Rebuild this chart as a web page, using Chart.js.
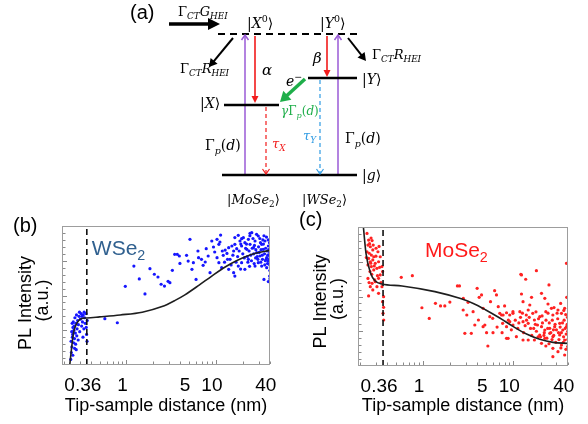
<!DOCTYPE html>
<html><head><meta charset="utf-8">
<script src="https://cdn.jsdelivr.net/npm/chart.js@4.4.0/dist/chart.umd.min.js"></script>
<style>
html,body{margin:0;padding:0;background:#fff;}
#wrap{position:relative;width:588px;height:424px;overflow:hidden;background:#fff;}
canvas{position:absolute;}
#diag{left:0px;top:0px;}
#plotB{left:0px;top:205px;}
#plotC{left:295px;top:205px;}
</style></head><body>
<div id="wrap">
<canvas id="diag" width="588" height="210"></canvas>
<canvas id="plotB" width="290" height="219"></canvas>
<canvas id="plotC" width="293" height="219"></canvas>
</div>
<script>
// ---------------- data ----------------
const xTickValues = [0.36, 1, 5, 10, 40];
const xTickLabels = ['0.36', '1', '5', '10', '40'];
const xMinorTicks = [0.2,0.3,0.4,0.5,0.6,0.7,0.8,0.9,1,2,3,4,5,6,7,8,9,10,20,30,40];
const cutoffDistance = 0.36;

// WSe2 PL intensity vs tip-sample distance (nm, a.u. 0-100)
const wsePoints = [
 [0.238,4],[0.242,9],[0.245,13],[0.240,17],[0.248,20],[0.244,24],[0.252,27],[0.247,30],[0.256,16],[0.250,22],
 [0.258,25],[0.254,31],[0.262,19],[0.260,28],[0.265,34],[0.268,23],[0.272,30],[0.270,15],[0.276,36],[0.280,26],
 [0.284,32],[0.278,21],[0.290,29],[0.295,35],[0.300,24],[0.305,33],[0.310,37],[0.315,28],[0.322,31],[0.328,36],
 [0.334,26],[0.340,34],[0.346,30],[0.352,37],[0.358,22],[0.364,32],[0.362,17],[0.355,27],[0.326,20],[0.288,18],
 [0.263,12],[0.251,7],[0.274,11],[0.318,35],[0.298,38],[0.336,38],
 [0.573,33.3],[0.79,30.4],[0.97,56.6],[1.21,71.2],[1.39,61.9],[1.61,51.1],[1.83,69.3],[2.05,65.3],[2.25,63.3],
 [2.44,58.1],[2.66,56.8],[2.92,60.2],[3.06,59.2],[3.26,68.1],[3.46,79.6],[3.9,78.4],
 [5.13,90.4],[3.7,79.6],[3.96,73.1],[4.7,78.9],[4.9,74.8],[5.6,73.6],[5.4,68.8],[6.0,61.6],[6.4,77.2],[6.3,82.0],
 [6.9,76.0],[7.2,71.7],[7.8,83.7],[8.2,78.4],[7.6,74.1],[8.6,66.4],[9.0,89.2],[9.4,84.9],[9.7,81.3],[10.3,90.4],
 [10.8,86.8],[11.1,88.5],[10.3,77.2],[10.8,73.6],[11.6,70.0],[12.1,78.9],[12.7,82.7],[13.3,80.3],[13.9,84.4],[14.4,76.0],
 [15.1,85.6],[15.8,82.0],[16.3,86.8],[17.1,83.7],[17.8,93.3],[18.6,89.2],[19.4,85.6],[20.3,91.6],[21.1,88.0],[22.2,83.2],
 [23.1,90.4],[24.1,86.8],[25.2,95.2],[26.3,84.4],[27.4,89.2],[28.6,80.8],[29.8,92.8],[31.1,78.4],[32.5,86.8],[33.9,83.2],
 [35.4,89.2],[37.0,77.2],[38.6,85.6],[40.0,80.8],
 [13.9,68.8],[15.8,66.4],[16.3,64.0],[17.8,71.2],[19.4,73.6],[21.1,68.8],[23.1,76.0],[27.4,71.2],[29.8,73.6],[32.5,71.2],
 [34.5,61.6],[37.0,70.0],[38.6,74.8],
 [20.0,80],[21.5,84],[22.5,78],[23.5,82],[24.5,79],[25.5,84],[26.5,80],[27.0,86],[28.0,83],[29.0,78],[30.0,85],[30.5,81],
 [31.5,88],[32.0,83],[33.0,79],[34.0,87],[35.0,80],[36.0,84],[36.5,76],[37.5,82],[38.0,79],[39.0,83],[39.5,76],[40.0,72],
 [39.8,88],[38.5,90],[36.8,92],[34.5,93],[33.5,90],[31.0,91],[28.5,94],[26.0,91],[24.0,93],[22.0,87],[19.0,87],[18.2,82],
 [17.5,78],[16.8,74],[15.5,79],[14.8,72],[13.5,76],[12.5,74],[11.8,82],[40.2,78],[40.1,68],[39.9,64],[37.8,73],[35.8,75],
 [25.0,75],[23.8,71],[22.8,74],[20.8,77],[18.9,69],[29.5,76],[31.8,74],[33.2,76],[35.2,72],[27.8,77],[26.8,73],
 [11.3,93.5],[16.3,91.7],[19.4,90.9],[24.1,94.7],[40.2,62],[38.6,60]
];
const wseFit = [
 [0.232,0],[0.243,12],[0.255,22.8],[0.278,30],[0.31,33.3],[0.36,33.8],[0.5,34.6],[0.85,36],[1.5,38],[2.5,42],
 [3.5,46.5],[4.5,50.5],[6.5,57.5],[9,64],[12.7,70.5],[17,75],[25,79.5],[40.3,82.5]
];

// MoSe2 PL intensity vs tip-sample distance (nm, a.u. 0-100)
const moPoints = [
 [0.239,95.4],[0.249,90.6],[0.272,90.2],[0.245,87.0],[0.260,85.8],[0.277,83.5],[0.239,82.2],[0.253,81.1],[0.267,79.8],
 [0.284,78.6],[0.249,77.4],[0.260,75.0],[0.277,76.3],[0.295,73.9],[0.245,72.7],[0.267,71.5],[0.284,69.1],[0.308,70.3],
 [0.321,75.0],[0.335,78.6],[0.316,82.2],[0.301,84.7],[0.35,71.5],[0.356,67.9],[0.335,65.5],[0.321,63.1],[0.291,61.9],
 [0.272,59.5],[0.260,57.1],[0.308,57.1],[0.277,54.7],[0.321,52.3],[0.249,50.4],[0.295,60.7],[0.35,57.1],[0.365,49.9],
 [0.356,46.3],[0.365,42.2],[0.36,37.9],[0.366,33.1],[0.255,88],[0.265,92],[0.258,68],[0.27,66],[0.288,72],[0.30,79],
 [0.312,65],[0.33,71],[0.342,60],[0.245,63],[0.263,74],[0.28,87],[0.235,78],[0.252,60],[0.325,86],
 [0.573,63.8],[0.76,65.0],[0.97,41.9],[1.17,34.2],[1.37,45.1],[1.56,43.2],[1.74,43.2],[1.98,46.0],[2.4,57.6],[2.53,57.6],
 [2.79,48.7],[2.9,23.5],[3.15,45.8],[2.78,40.3],[3.05,36.7],[4.1,33.1],[4.62,28.3],[7.4,36.7],[8.75,19.9],[9.9,39.1],
 [38.7,73.9],[12.3,65.5],[18.0,68.6],[13.7,62.4],[24.8,58.3],[3.97,55.9],[6.2,54.2],[6.5,51.1],[4.44,51.1],[4.18,49.4],
 [12.3,51.8],[20.5,52.3],[15.9,49.4],[12.8,46.3],[22.3,48.7],[5.58,46.3],[39.0,49.4],[8.0,43.2],[6.8,42.7],[15.2,43.9],
 [14.6,40.3],[24.2,44.6],[26.4,41.5],[3.58,39.1],[4.62,41.5],[7.07,37.9],[7.7,36.7],[8.4,38.3],[9.12,36.7],[9.9,37.9],
 [31.2,40.3],[34.1,37.9],[37.0,41.5],[5.48,35.5],[5.9,34.3],[11.8,39.1],[13.9,36.7],[16.4,37.9],[19.6,35.5],[22.9,39.1],
 [27.4,36.7],[3.74,29.5],[4.83,29.5],[7.6,30.7],[8.4,28.3],[9.12,31.9],[9.9,29.5],[12.8,31.9],[14.6,30.7],[17.1,33.1],
 [18.5,29.5],[20.5,28.3],[22.3,25.9],[25.3,27.1],[28.7,28.3],[32.6,30.7],[35.3,25.9],[38.7,28.3],[3.42,23.5],[5.05,24.0],
 [5.95,24.0],[8.4,19.9],[10.8,21.1],[12.8,18.7],[14.6,18.7],[17.1,18.7],[19.6,22.3],[22.3,19.9],[25.3,23.5],[27.4,21.1],
 [32.6,22.3],[37.0,18.7],[5.22,14.4],[20.5,16.3],[22.9,14.4],[27.4,12.7],[31.2,10.3],[34.1,15.1],[27.4,6.7],[37.0,7.9],
 [12.1,66],
 [10.5,33],[11.2,27],[12.0,35],[13.0,24],[14.0,33],[15.5,27],[16.0,22],[17.5,30],[18.0,25],[19.0,34],[20.0,21],[21.0,31],
 [22.0,24],[23.0,33],[24.0,27],[25.0,31],[26.0,24],[27.0,33],[28.0,22],[29.0,30],[30.0,26],[31.0,34],[32.0,19],[33.0,28],
 [34.0,24],[35.0,31],[36.0,21],[37.5,27],[38.5,23],[39.5,30],[40.0,19],[39.8,35],[38.0,37],[36.5,33],[30.5,38],[29.5,17],
 [26.8,19],[24.8,16],[21.8,22],[18.8,21],[16.8,27],[13.5,29],[11.5,31],[9.5,26],[8.8,33],[7.5,24],[6.6,28],[40.0,25],
 [39.9,14],[38.2,12],[35.8,17],[33.6,13],[31.6,24],[27.8,26],[23.5,20],[20.8,36],[17.8,39],[15.0,35],[12.6,38],[28.2,42],
 [33.4,45],[36.2,40],[24.2,38]
];
const moFit = [
 [0.218,100],[0.233,81.1],[0.262,66.7],[0.295,61.2],[0.35,59],[0.584,57.6],[1.35,53.5],[2.6,48.5],[3.6,45],[4.9,40.5],
 [7.07,34.5],[9.9,28.5],[14,23],[19.6,19.2],[27.5,17],[40,16.3]
];

// ---------------- diagram (a) specification (pixel units) ----------------
const diagLevels = [
 {from:[218,34], to:[357,34], width:2, dash:[7,5]},
 {from:[224,105], to:[279,105], width:2.5},
 {from:[308,78], to:[357,78], width:2.5},
 {from:[222,175], to:[357,175], width:2.5}
];
const diagArrows = [
 {from:[169,24], to:[220,24], color:'#000', width:3.5, head:'fill', hl:12, hw:6},
 {from:[233,38], to:[209,67], color:'#000', width:2, head:'fill', hl:8, hw:4.5},
 {from:[348,38], to:[366,61], color:'#000', width:2, head:'fill', hl:8, hw:4.5},
 {from:[255,36], to:[255,103], color:'#f21c1c', width:1.6, head:'fill', hl:7, hw:3.5},
 {from:[327,36], to:[327,77], color:'#f21c1c', width:1.6, head:'fill', hl:7, hw:3.5},
 {from:[305,79], to:[280,102], color:'#1fae4a', width:3.5, head:'fill', hl:10, hw:6},
 {from:[266,107], to:[266,174], color:'#f21c1c', width:1.2, dash:[4,3], head:'open', hl:5, hw:3.5},
 {from:[320,80], to:[320,174], color:'#2f9be3', width:1.2, dash:[4,3], head:'open', hl:5, hw:3.5},
 {from:[245,175], to:[245,35], color:'#9a5ad6', width:1.5, head:'open', hl:5, hw:3.5},
 {from:[338,175], to:[338,35], color:'#9a5ad6', width:1.5, head:'open', hl:5, hw:3.5}
];
const diagLabels = [
 {x:178, y:16, size:13, color:'#000', parts:[['Γ','r'],['CT','sb'],['G','i'],['HEI','sb']]},
 {x:247, y:28, size:14, color:'#000', parts:[['|','r'],['X','i'],['0','sp'],['⟩','r']]},
 {x:320, y:28, size:14, color:'#000', parts:[['|','r'],['Y','i'],['0','sp'],['⟩','r']]},
 {x:180, y:73, size:13, color:'#000', parts:[['Γ','r'],['CT','sb'],['R','i'],['HEI','sb']]},
 {x:372, y:59, size:13, color:'#000', parts:[['Γ','r'],['CT','sb'],['R','i'],['HEI','sb']]},
 {x:262, y:75, size:15, color:'#000', parts:[['α','i']]},
 {x:313, y:63, size:15, color:'#000', parts:[['β','i']]},
 {x:200, y:108, size:14, color:'#000', parts:[['|','r'],['X','i'],['⟩','r']]},
 {x:362, y:84, size:14, color:'#000', parts:[['|','r'],['Y','i'],['⟩','r']]},
 {x:286, y:86, size:14, color:'#000', parts:[['e','i'],['−','sp']]},
 {x:281, y:115, size:12, color:'#1fae4a', parts:[['γ','i'],['Γ','r'],['p','sb'],['(','r'],['d','i'],[')','r']]},
 {x:272, y:148, size:13, color:'#f21c1c', parts:[['τ','i'],['X','sb']]},
 {x:303, y:140, size:13, color:'#2f9be3', parts:[['τ','i'],['Y','sb']]},
 {x:205, y:150, size:14, color:'#000', parts:[['Γ','r'],['p','sb'],['(','r'],['d','i'],[')','r']]},
 {x:345, y:143, size:14, color:'#000', parts:[['Γ','r'],['p','sb'],['(','r'],['d','i'],[')','r']]},
 {x:362, y:180, size:14, color:'#000', parts:[['|','r'],['g','i'],['⟩','r']]},
 {x:227, y:204, size:13, color:'#000', parts:[['|','r'],['MoSe','i'],['2','sbr'],['⟩','r']]},
 {x:302, y:204, size:13, color:'#000', parts:[['|','r'],['WSe','i'],['2','sbr'],['⟩','r']]}
];

// ---------------- helpers ----------------
const SANS = '"Liberation Sans", Arial, sans-serif';
const SERIF = '"DejaVu Serif", "Liberation Serif", serif';

function drawRich(ctx, x, y, parts, color, size, family) {
  let cx = x;
  ctx.save();
  ctx.fillStyle = color; ctx.textBaseline = 'alphabetic'; ctx.textAlign = 'left';
  for (const [t, k] of parts) {
    let fs = size, dy = 0, italic = false;
    if (k === 'i') italic = true;
    if (k === 'sb') { fs = size * 0.68; dy = size * 0.25; italic = true; }
    if (k === 'sbr') { fs = size * 0.68; dy = size * 0.25; }
    if (k === 'sp') { fs = size * 0.68; dy = -size * 0.42; }
    ctx.font = (italic ? 'italic ' : '') + fs + 'px ' + family;
    ctx.fillText(t, cx, y + dy);
    cx += ctx.measureText(t).width;
  }
  ctx.restore();
}

// ---------------- diagram chart ----------------
function shaftEnd(a) {
  if (a.head !== 'fill') return a.to;
  const dx = a.to[0] - a.from[0], dy = a.to[1] - a.from[1];
  const L = Math.hypot(dx, dy);
  return [a.to[0] - dx / L * a.hl * 0.8, a.to[1] - dy / L * a.hl * 0.8];
}
const diagDatasets = [];
diagLevels.forEach(l => diagDatasets.push({
  data: [{x: l.from[0], y: l.from[1]}, {x: l.to[0], y: l.to[1]}],
  showLine: true, borderColor: '#000', borderWidth: l.width, borderDash: l.dash || [],
  pointRadius: 0, borderCapStyle: 'butt'
}));
diagArrows.forEach(a => { const e = shaftEnd(a); diagDatasets.push({
  data: [{x: a.from[0], y: a.from[1]}, {x: e[0], y: e[1]}],
  showLine: true, borderColor: a.color, borderWidth: a.width, borderDash: a.dash || [],
  pointRadius: 0, borderCapStyle: 'butt'
}); });

const diagPlugin = {
  id: 'diagDeco',
  afterDatasetsDraw(chart) {
    const {ctx, scales: {x, y}} = chart;
    diagArrows.forEach(a => {
      const fx = x.getPixelForValue(a.from[0]), fy = y.getPixelForValue(a.from[1]);
      const tx = x.getPixelForValue(a.to[0]), ty = y.getPixelForValue(a.to[1]);
      const ang = Math.atan2(ty - fy, tx - fx);
      const bx = tx - Math.cos(ang) * a.hl, by = ty - Math.sin(ang) * a.hl;
      const px = -Math.sin(ang) * a.hw, py = Math.cos(ang) * a.hw;
      ctx.save();
      ctx.setLineDash([]);
      if (a.head === 'fill') {
        ctx.fillStyle = a.color;
        ctx.beginPath(); ctx.moveTo(tx, ty); ctx.lineTo(bx + px, by + py); ctx.lineTo(bx - px, by - py); ctx.closePath(); ctx.fill();
      } else {
        ctx.strokeStyle = a.color; ctx.lineWidth = a.width;
        ctx.beginPath(); ctx.moveTo(bx + px, by + py); ctx.lineTo(tx, ty); ctx.lineTo(bx - px, by - py); ctx.stroke();
      }
      ctx.restore();
    });
    diagLabels.forEach(l => drawRich(ctx, x.getPixelForValue(l.x), y.getPixelForValue(l.y), l.parts, l.color, l.size, SERIF));
    drawRich(ctx, x.getPixelForValue(130), y.getPixelForValue(19), [['(a)', 'r']], '#000', 20, SANS);
  }
};

new Chart(document.getElementById('diag'), {
  type: 'scatter',
  data: {datasets: diagDatasets},
  options: {
    responsive: false, animation: false, events: [],
    layout: {padding: 0},
    plugins: {legend: {display: false}, tooltip: {enabled: false}},
    scales: {
      x: {type: 'linear', min: 0, max: 588, display: false},
      y: {type: 'linear', min: 0, max: 210, reverse: true, display: false}
    }
  },
  plugins: [diagPlugin]
});

// ---------------- PL plots ----------------
function makePlot(id, points, fit, color, name, nameColor, nameAt, panel, panelAt, yTitle) {
  const framePlugin = {
    id: 'frame' + id,
    afterDraw(chart) {
      const {ctx, chartArea: {left, top, right, bottom}, scales: {x, y}} = chart;
      ctx.save();
      ctx.strokeStyle = '#9d9d9d'; ctx.lineWidth = 1;
      ctx.strokeRect(left + 0.5, top + 0.5, right - left - 1, bottom - top - 1);
      ctx.strokeStyle = '#8a8a8a';
      ctx.beginPath();
      xMinorTicks.forEach(v => {
        const p = Math.round(x.getPixelForValue(v)) + 0.5;
        const len = (v === 1 || v === 10) ? 4 : 2.5;
        ctx.moveTo(p, bottom - 1); ctx.lineTo(p, bottom - 1 - len);
      });
      for (let v = 5; v < 100; v += 5) {
        const p = Math.round(y.getPixelForValue(v)) + 0.5;
        const len = (v % 25 === 0) ? 4 : 2.5;
        ctx.moveTo(left + 1, p); ctx.lineTo(left + 1 + len, p);
      }
      ctx.stroke();
      ctx.restore();
      drawRich(ctx, x.getPixelForValue(nameAt[0]), y.getPixelForValue(nameAt[1]),
        [[name, 'r'], ['2', 'sbr']], nameColor, 21, SANS);
      drawRich(ctx, panelAt[0], panelAt[1], [[panel, 'r']], '#000', 20, SANS);
    }
  };
  new Chart(document.getElementById(id), {
    type: 'scatter',
    data: {datasets: [
      {type: 'line', data: fit.map(([d, v]) => ({x: d, y: v})), borderColor: '#1e1e1e', borderWidth: 1.6,
       pointRadius: 0, cubicInterpolationMode: 'monotone', fill: false},
      {type: 'line', data: [{x: cutoffDistance, y: 0}, {x: cutoffDistance, y: 100}], borderColor: '#111',
       borderWidth: 1.6, borderDash: [6, 4], pointRadius: 0, fill: false},
      {data: points.map(([d, v]) => ({x: d, y: v})), backgroundColor: color, borderWidth: 0, pointRadius: 1.6}
    ]},
    options: {
      responsive: false, animation: false, events: [],
      layout: {padding: {top: id === 'plotB' ? 21 : 22, right: 20, left: 0, bottom: 0}},
      plugins: {legend: {display: false}, tooltip: {enabled: false}},
      scales: {
        x: {
          type: 'logarithmic', min: 0.19, max: 40.3,
          afterBuildTicks: s => { s.ticks = xTickValues.map(v => ({value: v})); },
          ticks: {
            callback: v => { const i = xTickValues.indexOf(v); return i >= 0 ? xTickLabels[i] : ''; },
            font: {family: SANS, size: 19}, color: '#000', padding: 9, labelOffset: -4,
            autoSkip: false, maxRotation: 0, minRotation: 0
          },
          grid: {display: false, drawTicks: false}, border: {display: false},
          title: {display: true, text: 'Tip-sample distance (nm)', color: '#000',
                  font: {family: SANS, size: 18}, padding: {top: 0, bottom: 7}},
          afterFit: s => { s.height = id === 'plotB' ? 59 : 58; }
        },
        y: {
          min: 0, max: 100,
          ticks: {display: false}, grid: {display: false, drawTicks: false}, border: {display: false},
          title: {display: true, text: yTitle, color: '#000',
                  font: {family: SANS, size: 18, lineHeight: '17px'}, padding: {top: 17.5, bottom: 0}},
          afterFit: s => { s.width = id === 'plotB' ? 62 : 63; }
        }
      }
    },
    plugins: [framePlugin]
  });
}

makePlot('plotB', wsePoints, wseFit, '#1616ff', 'WSe', '#30608f', [0.41, 79], '(b)', [13, 27],
         ['PL Intensity   ', '(a.u.)  ']);
makePlot('plotC', moPoints, moFit, '#ff2222', 'MoSe', '#ff1a1a', [1.05, 78.4], '(c)', [4, 21],
         ['PL Intensity  ', '(a.u.) ']);
</script>
</body></html>
